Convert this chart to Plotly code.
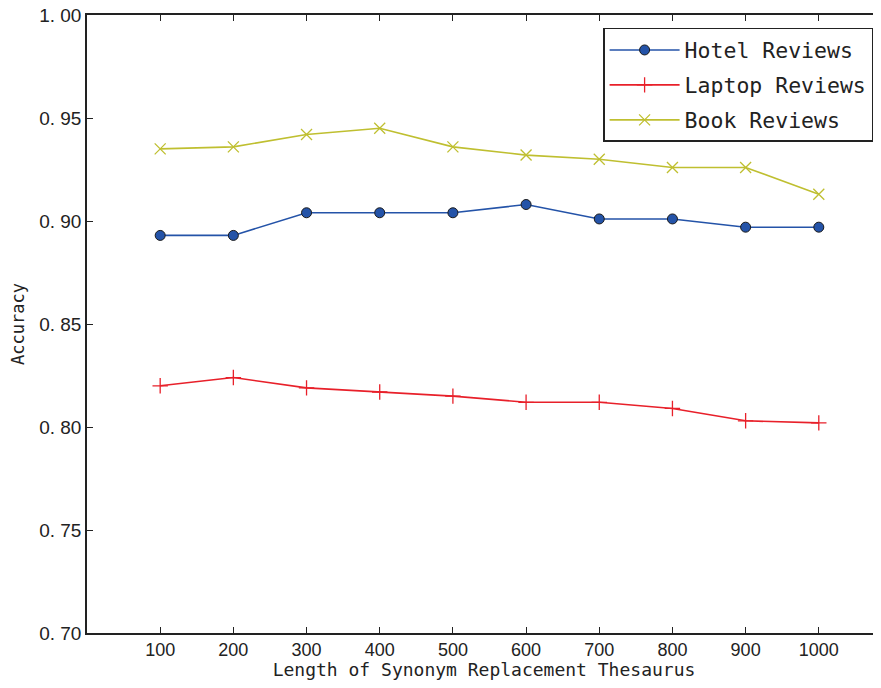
import plotly.graph_objects as go

x_vals = [100, 200, 300, 400, 500, 600, 700, 800, 900, 1000]
hotel = [0.893, 0.893, 0.904, 0.904, 0.904, 0.908, 0.901, 0.901, 0.897, 0.897]
laptop = [0.820, 0.824, 0.819, 0.817, 0.815, 0.812, 0.812, 0.809, 0.803, 0.802]
book = [0.935, 0.936, 0.942, 0.945, 0.936, 0.932, 0.930, 0.926, 0.926, 0.913]
y_ticks = [0.70, 0.75, 0.80, 0.85, 0.90, 0.95, 1.00]
y_ticktext = ["0. 70", "0. 75", "0. 80", "0. 85", "0. 90", "0. 95", "1. 00"]

mono = "DejaVu Sans Mono, monospace"
sans = "Liberation Sans, Arial, sans-serif"

fig = go.Figure()
fig.add_trace(go.Scatter(x=x_vals, y=hotel, name="Hotel Reviews", mode="lines+markers",
                         legendgroup="a",
                         line=dict(color="#2453a8", width=1.6),
                         marker=dict(symbol="circle", size=10, color="#2453a8",
                                     line=dict(color="#1a1a1a", width=1))))
fig.add_trace(go.Scatter(x=x_vals, y=laptop, name="Laptop Reviews", mode="lines+markers",
                         legendgroup="b",
                         line=dict(color="#e8202a", width=1.6),
                         marker=dict(symbol="cross-thin", size=11, color="#e8202a",
                                     line=dict(color="#e8202a", width=1.3))))
fig.add_trace(go.Scatter(x=x_vals, y=book, name="Book Reviews", mode="lines+markers",
                         legendgroup="c",
                         line=dict(color="#bfbf30", width=1.6),
                         marker=dict(symbol="x-thin", size=11, color="#bfbf30",
                                     line=dict(color="#bfbf30", width=1.3))))
# invisible trace on top axis
fig.add_trace(go.Scatter(x=x_vals, y=hotel, xaxis="x2", mode="markers",
                         marker=dict(opacity=0), showlegend=False, hoverinfo="skip"))

fig.update_layout(
    width=873, height=672,
    margin=dict(l=79, r=0, t=7, b=47, autoexpand=False),
    paper_bgcolor="white", plot_bgcolor="white",
    xaxis=dict(range=[0, 1085], tickvals=x_vals, ticks="inside", ticklen=6,
               tickcolor="#222", showline=True, linecolor="#222", linewidth=1.5,
               showgrid=False, zeroline=False, automargin=False,
               tickfont=dict(family=sans, size=18, color="#222"),
               title=dict(text="Length of Synonym Replacement Thesaurus",
                          font=dict(family=mono, size=18, color="#222"), standoff=4)),
    xaxis2=dict(range=[0, 1085], tickvals=x_vals, ticks="inside", ticklen=6,
                tickcolor="#222", showline=True, linecolor="#222", linewidth=1.5,
                showgrid=False, zeroline=False, showticklabels=False, automargin=False,
                overlaying="x", side="top"),
    yaxis=dict(range=[0.70, 1.00], tickvals=y_ticks, ticktext=y_ticktext,
               ticks="inside", ticklen=6, tickcolor="#222",
               showline=True, linecolor="#222", linewidth=1.5,
               showgrid=False, zeroline=False, automargin=False,
               ticklabeloverflow="allow",
               tickfont=dict(family=sans, size=19, color="#222"),
               title=dict(text="Accuracy", font=dict(family=mono, size=17, color="#222"),
                          standoff=12)),
    legend=dict(x=0.65, y=0.979, xanchor="left", yanchor="top",
                bgcolor="white", bordercolor="#222", borderwidth=1.5,
                font=dict(family=mono, size=21.5, color="#222"),
                itemwidth=70, tracegroupgap=4, traceorder="grouped"),
    showlegend=True,
)

fig.write_html("out.html")
